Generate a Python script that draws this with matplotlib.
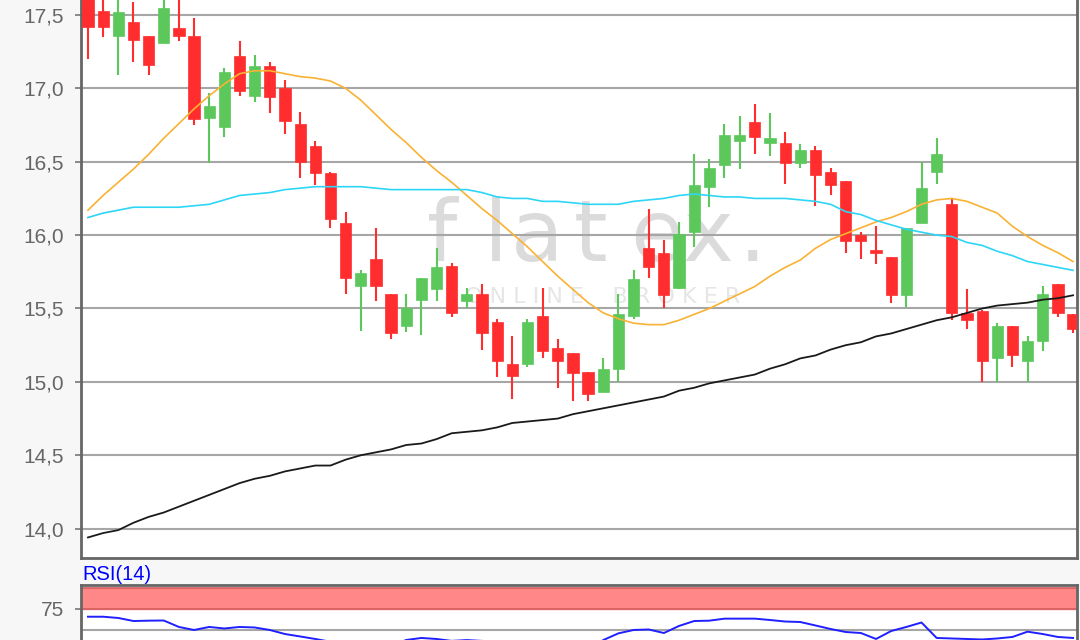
import matplotlib
matplotlib.use("Agg")
import matplotlib.pyplot as plt
from matplotlib.ticker import FuncFormatter

# daily candles (open, high, low, close)
opens = [17.66, 17.53, 17.36, 17.45, 17.36, 17.31, 17.41, 17.36, 16.80, 16.74,
         17.22, 16.95, 17.15, 17.00, 16.76, 16.61, 16.42, 16.08, 15.65, 15.84,
         15.60, 15.38, 15.56, 15.63, 15.79, 15.55, 15.60, 15.41, 15.12, 15.12,
         15.45, 15.23, 15.20, 15.07, 14.93, 15.09, 15.45, 15.91, 15.88, 15.64,
         16.02, 16.33, 16.48, 16.64, 16.77, 16.63, 16.63, 16.49, 16.58, 16.43,
         16.37, 16.00, 15.90, 15.85, 15.59, 16.08, 16.43, 16.21, 15.47, 15.48,
         15.16, 15.38, 15.14, 15.28, 15.67, 15.46]
highs = [17.75, 17.63, 17.63, 17.59, 17.36, 17.63, 17.63, 17.48, 16.97, 17.14,
         17.32, 17.23, 17.18, 17.06, 16.84, 16.64, 16.43, 16.16, 15.76, 16.05,
         15.60, 15.60, 15.71, 15.91, 15.81, 15.64, 15.67, 15.43, 15.31, 15.43,
         15.64, 15.29, 15.20, 15.07, 15.16, 15.60, 15.76, 16.18, 15.97, 16.09,
         16.55, 16.52, 16.76, 16.81, 16.89, 16.83, 16.70, 16.62, 16.61, 16.46,
         16.37, 16.02, 16.06, 15.85, 16.05, 16.50, 16.66, 16.25, 15.63, 15.49,
         15.40, 15.38, 15.31, 15.65, 15.67, 15.46]
lows = [17.20, 17.35, 17.09, 17.18, 17.09, 17.31, 17.32, 16.75, 16.49, 16.67,
        16.95, 16.91, 16.83, 16.69, 16.39, 16.34, 16.05, 15.60, 15.35, 15.55,
        15.29, 15.34, 15.32, 15.55, 15.44, 15.50, 15.22, 15.03, 14.88, 15.10,
        15.16, 14.96, 14.87, 14.87, 14.93, 15.00, 15.43, 15.71, 15.50, 15.63,
        15.92, 16.19, 16.39, 16.45, 16.55, 16.54, 16.35, 16.46, 16.20, 16.27,
        15.88, 15.84, 15.80, 15.54, 15.51, 16.08, 16.35, 15.42, 15.36, 15.00,
        15.00, 15.10, 15.00, 15.21, 15.44, 15.33]
closes = [17.42, 17.42, 17.52, 17.33, 17.16, 17.55, 17.36, 16.79, 16.88, 17.11,
          16.98, 17.15, 16.94, 16.78, 16.50, 16.42, 16.11, 15.71, 15.74, 15.65,
          15.33, 15.50, 15.71, 15.78, 15.47, 15.60, 15.33, 15.14, 15.04, 15.41,
          15.21, 15.14, 15.06, 14.92, 15.09, 15.46, 15.70, 15.78, 15.59, 16.01,
          16.34, 16.46, 16.68, 16.68, 16.67, 16.66, 16.49, 16.58, 16.41, 16.34,
          15.96, 15.96, 15.88, 15.59, 16.05, 16.32, 16.55, 15.47, 15.42, 15.14,
          15.38, 15.18, 15.28, 15.60, 15.47, 15.36]

# moving averages
ma_short = [16.17, 16.27, 16.36, 16.45, 16.55, 16.66, 16.76, 16.86, 16.95, 17.03,
            17.10, 17.12, 17.12, 17.10, 17.08, 17.07, 17.05, 17.00, 16.92, 16.82,
            16.72, 16.63, 16.53, 16.44, 16.36, 16.27, 16.18, 16.10, 16.01, 15.92,
            15.82, 15.72, 15.63, 15.54, 15.47, 15.43, 15.40, 15.39, 15.39, 15.42,
            15.46, 15.50, 15.55, 15.60, 15.65, 15.72, 15.78, 15.83, 15.91, 15.97,
            16.01, 16.05, 16.09, 16.12, 16.16, 16.21, 16.24, 16.25, 16.23, 16.19,
            16.15, 16.06, 15.99, 15.93, 15.88, 15.82]
ma_mid = [16.12, 16.15, 16.17, 16.19, 16.19, 16.19, 16.19, 16.20, 16.21, 16.24,
          16.27, 16.28, 16.29, 16.31, 16.32, 16.33, 16.33, 16.33, 16.33, 16.32,
          16.31, 16.31, 16.31, 16.31, 16.31, 16.31, 16.29, 16.26, 16.25, 16.25,
          16.23, 16.23, 16.22, 16.21, 16.21, 16.21, 16.23, 16.24, 16.25, 16.27,
          16.28, 16.27, 16.26, 16.26, 16.25, 16.25, 16.25, 16.24, 16.23, 16.21,
          16.16, 16.14, 16.10, 16.07, 16.04, 16.02, 16.00, 15.99, 15.95, 15.93,
          15.89, 15.86, 15.82, 15.80, 15.78, 15.76]
ma_long = [13.94, 13.97, 13.99, 14.04, 14.08, 14.11, 14.15, 14.19, 14.23, 14.27,
           14.31, 14.34, 14.36, 14.39, 14.41, 14.43, 14.43, 14.47, 14.50, 14.52,
           14.54, 14.57, 14.58, 14.61, 14.65, 14.66, 14.67, 14.69, 14.72, 14.73,
           14.74, 14.75, 14.78, 14.80, 14.82, 14.84, 14.86, 14.88, 14.90, 14.94,
           14.96, 14.99, 15.01, 15.03, 15.05, 15.09, 15.12, 15.16, 15.18, 15.22,
           15.25, 15.27, 15.31, 15.33, 15.36, 15.39, 15.42, 15.44, 15.47, 15.50,
           15.52, 15.53, 15.54, 15.56, 15.57, 15.59]

rsi = [65.8, 65.8, 64.3, 60.7, 61.1, 61.3, 53.6, 50.0, 53.6, 51.8,
       53.6, 53.0, 50.0, 45.2, 42.3, 39.3, 36.0, 31.0, 33.0, 34.0,
       31.0, 38.1, 40.5, 39.3, 37.0, 38.0, 37.0, 36.0, 32.0, 37.0,
       36.0, 32.0, 30.0, 26.0, 38.0, 46.0, 50.0, 50.6, 46.4, 54.8,
       60.7, 61.1, 63.5, 63.5, 63.5, 61.9, 60.1, 59.5, 55.4, 51.2,
       47.6, 46.4, 39.3, 48.8, 53.6, 58.9, 40.5, 39.9, 39.3, 38.7,
       39.9, 41.7, 48.0, 45.2, 41.7, 40.5]

price_ticks = [14.0, 14.5, 15.0, 15.5, 16.0, 16.5, 17.0, 17.5]

# watermark letters and where they sit (axes fraction)
logo_letters = ['f', 'l', 'a', 't', 'e', 'x', '.']
logo_x = [0.363, 0.417, 0.458, 0.512, 0.578, 0.630, 0.674]

up_color = '#5cc85c'
down_color = '#ff2d2d'
bg = '#f7f7f7'
spine_color = '#666666'
grid_color = '#a6a6a6'

plt.rcParams['font.family'] = ['Liberation Sans', 'DejaVu Sans']

fig = plt.figure(figsize=(10.8, 6.4), dpi=100, facecolor=bg)

# main price panel (its top runs off the picture)
ax = fig.add_axes([81 / 1080, 1 - 558 / 640, 996 / 1080, 558 / 640])
ax.set_facecolor('white')
x = list(range(len(opens)))

for i in x:
    o, h, l, c = opens[i], highs[i], lows[i], closes[i]
    col = up_color if c >= o else down_color
    ax.vlines(i, l, h, color=col, linewidth=1.5, zorder=3)
    ax.bar(i, max(abs(c - o), 0.012), bottom=min(o, c), width=0.74,
           color=col, edgecolor=col, linewidth=0.5, zorder=4)

ax.plot(x, ma_short, color='#f9b233', linewidth=1.2, zorder=5)
ax.plot(x, ma_mid, color='#2dd6f7', linewidth=1.2, zorder=5)
ax.plot(x, ma_long, color='#1a1a1a', linewidth=1.3, zorder=5)

# watermark
for ch, lx in zip(logo_letters, logo_x):
    ax.text(lx, 0.532, ch, transform=ax.transAxes, ha='center', va='baseline',
            fontsize=62, color='#dbdbdb', family='DejaVu Sans', zorder=0.5)
ax.text(0.524, 0.468, 'O N L I N E    B R O K E R', transform=ax.transAxes,
        ha='center', va='center', fontsize=16, color='#e6e6e6',
        family='DejaVu Sans', zorder=0.5)

ax.set_xlim(-0.46, 65.26)
ax.set_ylim(13.80, 17.602)
ax.set_yticks(price_ticks)
ax.yaxis.set_major_formatter(FuncFormatter(lambda v, p: f'{v:.1f}'.replace('.', ',')))
ax.grid(axis='y', color=grid_color, linewidth=1.5, zorder=2)
ax.set_axisbelow(True)
ax.set_xticks([])
ax.tick_params(axis='y', length=4, width=1.2, color='#777777', pad=8,
               labelsize=15, labelcolor='#666666')
ax.spines['top'].set_visible(False)
for s in ['left', 'bottom', 'right']:
    ax.spines[s].set_color(spine_color)
    ax.spines[s].set_linewidth(2)

# RSI panel (only its top shows)
ax2 = fig.add_axes([81 / 1080, 1 - 685 / 640, 996 / 1080, 100 / 640])
ax2.set_facecolor('white')
ax2.axhspan(75, 100, color='#ff8787', zorder=1)
ax2.axhline(75, color='#d35c5c', linewidth=1.2, zorder=2)
ax2.axhline(100, color='#d35c5c', linewidth=1.2, zorder=2)
ax2.axhline(50, color=grid_color, linewidth=1.5, zorder=2)
ax2.plot(x, rsi, color='#1f1fff', linewidth=1.4, zorder=3)
ax2.set_xlim(-0.46, 65.26)
ax2.set_ylim(-15.5, 103.57)
ax2.set_yticks([75])
ax2.set_xticks([])
ax2.tick_params(axis='y', length=4, width=1.2, color='#777777', pad=8,
                labelsize=15, labelcolor='#666666')
for s in ['left', 'top', 'right', 'bottom']:
    ax2.spines[s].set_color(spine_color)
    ax2.spines[s].set_linewidth(2)
fig.text(82 / 1080, 1 - 574 / 640, 'RSI(14)', color='#0000ff', fontsize=14.5,
         ha='left', va='center')

fig.savefig('out.png', dpi=100, facecolor=bg)
